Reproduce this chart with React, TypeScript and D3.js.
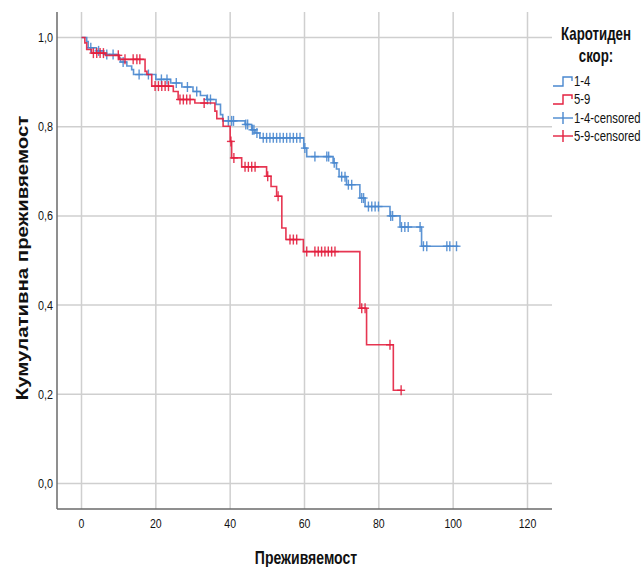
import React from "react";
import * as d3 from "d3";

// ---- Data ----
const groups = ["1-4", "5-9"];
const xTicks = [0, 20, 40, 60, 80, 100, 120];
const yTicks = [0, 0.2, 0.4, 0.6, 0.8, 1.0];

// group 1-4: event times and survival after each step
const blueTimes = [0, 1.4, 1.8, 4, 6, 10, 10.5, 12.2, 13.5, 14, 20, 24, 27, 30, 32, 33.7, 36.2, 37.4, 38, 44, 45.8, 46.7, 48, 59.8, 60.6, 67.7, 68.6, 69.3, 71.3, 74.9, 76.3, 83, 85.7, 91.5];
const blueSurv = [1.0, 0.991, 0.977, 0.97, 0.962, 0.954, 0.945, 0.936, 0.928, 0.917, 0.906, 0.898, 0.889, 0.879, 0.87, 0.861, 0.85, 0.827, 0.813, 0.805, 0.793, 0.786, 0.775, 0.752, 0.733, 0.719, 0.705, 0.688, 0.67, 0.64, 0.621, 0.6, 0.575, 0.532];
const blueEnd = 101.4;
const blueCensored = [2.5, 4.6, 6.8, 8.5, 11.2, 15.5, 18, 21.5, 23, 25.5, 28.5, 31, 33.9, 34.7, 39.5, 40.4, 40.9, 44.2, 44.7, 46, 46.4, 47.2, 48.9, 49.8, 50.7, 51.6, 52.5, 53.4, 54.3, 55.2, 56.1, 57, 57.9, 58.8, 60.1, 62.8, 66, 66.5, 68, 70, 70.9, 71.8, 72.7, 75.4, 75.9, 77.2, 78.1, 79, 79.9, 83.2, 83.7, 86.1, 87, 87.9, 91.1, 92, 92.9, 98.3, 99.1, 100.9];

// group 5-9
const redTimes = [0, 0.9, 1.4, 2.7, 6.5, 10.2, 17.1, 17.6, 18.9, 24.7, 26, 30.5, 35.9, 36.4, 38.1, 40, 40.4, 43.1, 49.8, 51, 52.5, 53.9, 55, 59.7, 74.9, 76.7, 83.9];
const redSurv = [1.0, 0.988, 0.973, 0.965, 0.96, 0.951, 0.924, 0.917, 0.891, 0.879, 0.861, 0.853, 0.835, 0.818, 0.801, 0.767, 0.73, 0.71, 0.689, 0.666, 0.644, 0.573, 0.547, 0.52, 0.393, 0.311, 0.209];
const redEnd = 86.1;
const redCensored = [3.2, 4.1, 5, 5.9, 9.9, 11.7, 13.9, 14.9, 15.7, 19.8, 20.7, 21.6, 22.5, 23.4, 26.5, 27.4, 28.3, 29.2, 33, 40.2, 41, 44, 44.9, 45.8, 46.7, 50.1, 52.9, 56.1, 57, 57.9, 60.6, 62.8, 63.7, 64.6, 65.5, 66.4, 67.3, 68.2, 75.4, 76.3, 83, 86];

const legendItems = ["1-4", "5-9", "1-4-censored", "5-9-censored"];

const BLUE = "#4a88cf";
const RED = "#e3203f";
const FONT = "'Liberation Sans', Arial, sans-serif";

const W = 644;
const H = 567;
const plot = { left: 57, right: 552, top: 12, bottom: 509 };

function SText(props: {
  x: number;
  y: number;
  sx: number;
  size: number;
  anchor?: string;
  bold?: boolean;
  children: string;
}) {
  return (
    <text
      transform={`translate(${props.x},${props.y}) scale(${props.sx},1)`}
      textAnchor={props.anchor || "start"}
      fontFamily={FONT}
      fontSize={props.size}
      fontWeight={props.bold ? "bold" : "normal"}
      fill="#111"
    >
      {props.children}
    </text>
  );
}

export default function App() {
  const x = d3.scaleLinear().domain([0, 120]).range([81.5, 527.5]);
  const y = d3.scaleLinear().domain([0, 1]).range([483.5, 37.5]);

  const stepLine = d3
    .line<[number, number]>()
    .x((d) => x(d[0]))
    .y((d) => y(d[1]))
    .curve(d3.curveStepAfter);

  const series = [
    { name: groups[0], times: blueTimes, surv: blueSurv, end: blueEnd, cens: blueCensored, color: BLUE },
    { name: groups[1], times: redTimes, surv: redSurv, end: redEnd, cens: redCensored, color: RED },
  ];

  const survAt = (times: number[], surv: number[], t: number) => {
    const i = d3.bisectRight(times, t) - 1;
    return surv[Math.max(0, i)];
  };

  const legendRows = [
    { label: legendItems[0], color: BLUE, type: "step", yy: 81 },
    { label: legendItems[1], color: RED, type: "step", yy: 99 },
    { label: legendItems[2], color: BLUE, type: "cens", yy: 118 },
    { label: legendItems[3], color: RED, type: "cens", yy: 136 },
  ];

  return (
    <svg width={W} height={H} style={{ display: "block", position: "absolute", left: 0, top: 0 }}>
      <rect x={0} y={0} width={W} height={H} fill="#fff" />
      {/* grid */}
      <g stroke="#cfcfcf" strokeWidth={1.5}>
        {xTicks.map((t) => (
          <line key={"gx" + t} x1={x(t)} x2={x(t)} y1={plot.top} y2={plot.bottom} />
        ))}
        {yTicks.map((t) => (
          <line key={"gy" + t} x1={plot.left} x2={plot.right} y1={y(t)} y2={y(t)} />
        ))}
      </g>
      {/* axes */}
      <g stroke="#6a6a6a" strokeWidth={1.5}>
        <line x1={plot.left} x2={plot.left} y1={plot.top} y2={plot.bottom} />
        <line x1={plot.left} x2={plot.right} y1={plot.bottom} y2={plot.bottom} />
      </g>
      {/* tick labels */}
      {xTicks.map((t) => (
        <SText key={"tx" + t} x={x(t)} y={528} sx={0.78} size={13.5} anchor="middle">
          {String(t)}
        </SText>
      ))}
      {yTicks.map((t) => (
        <SText key={"ty" + t} x={53} y={y(t) + 4.5} sx={0.8} size={13.5} anchor="end">
          {t.toFixed(1).replace(".", ",")}
        </SText>
      ))}
      {/* curves */}
      {series.map((s) => {
        const pts: [number, number][] = s.times.map((t, i) => [t, s.surv[i]] as [number, number]);
        pts.push([s.end, s.surv[s.surv.length - 1]]);
        return (
          <g key={s.name}>
            <path d={stepLine(pts) || ""} fill="none" stroke={s.color} strokeWidth={1.6} strokeOpacity={0.9} />
            {s.cens.map((c, i) => {
              const cx = x(c);
              const cy = y(survAt(s.times, s.surv, c));
              return (
                <g key={i} stroke={s.color} strokeWidth={1.4} strokeOpacity={0.9}>
                  <line x1={cx} x2={cx} y1={cy - 5} y2={cy + 5} />
                  <line x1={cx - 4} x2={cx + 4} y1={cy} y2={cy} />
                </g>
              );
            })}
          </g>
        );
      })}
      {/* axis titles */}
      <SText x={306} y={564} sx={0.78} size={18} anchor="middle" bold>
        Преживяемост
      </SText>
      <g transform="translate(28,258) rotate(-90)">
        <SText x={0} y={0} sx={1.2} size={17} anchor="middle" bold>
          Кумулативна преживяемост
        </SText>
      </g>
      {/* legend */}
      <SText x={596} y={40} sx={0.7} size={19} anchor="middle" bold>
        Каротиден
      </SText>
      <SText x={596} y={62} sx={0.7} size={19} anchor="middle" bold>
        скор:
      </SText>
      {legendRows.map((it) => (
        <g key={it.label}>
          {it.type === "step" ? (
            <path
              d={`M553,${it.yy + 5}H563V${it.yy - 4}H572V${it.yy}`}
              fill="none"
              stroke={it.color}
              strokeWidth={1.4}
            />
          ) : (
            <g stroke={it.color} strokeWidth={1.4}>
              <line x1={553} x2={573} y1={it.yy} y2={it.yy} />
              <line x1={563} x2={563} y1={it.yy - 6} y2={it.yy + 6} />
            </g>
          )}
          <SText x={574} y={it.yy + 5} sx={0.78} size={14.5}>
            {it.label}
          </SText>
        </g>
      ))}
    </svg>
  );
}
